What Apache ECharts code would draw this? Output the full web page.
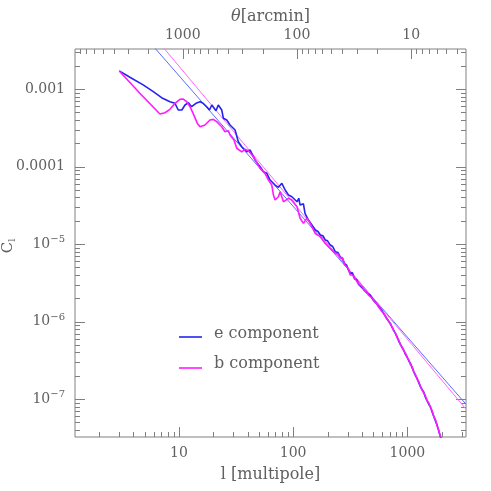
<!DOCTYPE html>
<html><head><meta charset="utf-8">
<script src="https://cdn.jsdelivr.net/npm/echarts@6/dist/echarts.min.js"></script>
<style>html,body{margin:0;padding:0;background:#fff}#c{width:491px;height:491px}</style>
</head><body><div id="c"></div>
<script>
// ---- data ----
const eL = [3.0, 3.72, 4.86, 5.96, 7.05, 8.34, 9.23, 9.86, 10.6, 11.3, 12.1, 12.9, 14.1, 15.3, 16.3, 17.5, 18.5, 19.4, 21.1, 22.1, 23.7, 24.5, 26.2, 28.0, 31.0, 33.1, 35.5, 39.2, 42.0, 46.4, 51.4, 54.9, 58.8, 62.8, 69.5, 74.3, 79.6, 85.1, 90.9, 97.4,
  108, 112, 115, 119, 123, 127, 132, 136, 141, 146, 151, 156, 165, 173, 182, 191, 200, 211, 222, 234, 246, 258, 270, 282, 295, 305, 316, 330, 345, 360, 373, 387, 405, 420, 440, 456, 473, 495, 515, 537, 558, 580, 605, 630, 655, 682, 710, 735, 760, 786, 813, 840, 870, 900, 929, 960, 995, 1030, 1063, 1100, 1140, 1180, 1217, 1260, 1300, 1345, 1391, 1440, 1490, 1540, 1592, 1650, 1710, 1765, 1822, 1880, 1940, 1977];
const eC = [1.71e-3, 1.42e-3, 1.13e-3, 9.23e-4, 7.72e-4, 6.86e-4, 6.53e-4, 5.36e-4, 5.36e-4, 6.22e-4, 6.66e-4, 5.91e-4, 6.53e-4, 6.86e-4, 6.53e-4, 5.91e-4, 5.36e-4, 6.22e-4, 5.25e-4, 6.22e-4, 5.36e-4, 4.19e-4, 3.98e-4, 3.43e-4, 2.96e-4, 2.09e-4, 1.80e-4, 1.55e-4, 1.63e-4, 1.21e-4, 9.94e-5, 8.57e-5, 8.17e-5, 6.70e-5, 5.77e-5, 5.39e-5, 6.07e-5, 4.98e-5, 4.29e-5, 4.08e-5,
  3.51e-5, 3.9e-5, 3.18e-5, 3.03e-5, 3.3e-5, 2.49e-5, 2.6e-5, 2.04e-5, 2.1e-5, 1.76e-5, 1.85e-5, 1.52e-5, 1.45e-5, 1.31e-5, 1.28e-5, 1.13e-5, 1.10e-5, 9.71e-6, 9.3e-6, 7.96e-6, 7.8e-6, 6.86e-6, 6.5e-6, 5.6e-6, 5.3e-6, 4.6e-6, 4.19e-6, 4.25e-6, 3.55e-6, 3.5e-6, 3.05e-6, 3.11e-6, 2.7e-6, 2.6e-6, 2.35e-6, 2.3e-6, 2.20e-6, 1.95e-6, 1.85e-6, 1.7e-6, 1.62e-6, 1.48e-6, 1.35e-6, 1.22e-6, 1.12e-6, 1.02e-6, 9.48e-7, 8.4e-7, 7.7e-7, 7.0e-7, 6.37e-7, 5.6e-7, 5.1e-7, 4.6e-7, 4.29e-7, 3.8e-7, 3.5e-7, 3.1e-7, 2.89e-7, 2.55e-7, 2.25e-7, 2.0e-7, 1.85e-7, 1.62e-7, 1.46e-7, 1.32e-7, 1.24e-7, 1.05e-7, 9.5e-8, 8.6e-8, 7.96e-8, 6.8e-8, 5.9e-8, 5.2e-8, 4.62e-8, 3.9e-8, 3.35e-8, 3.11e-8];

const bL = [3.0, 4.55, 6.81, 7.54, 8.34, 9.23, 10.2, 10.9, 11.7, 12.5, 13.3, 14.5, 15.3, 16.9, 18.7, 20.0, 21.4, 23.7, 25.3, 27.1, 28.0, 30.3, 32.1, 35.5, 37.9, 40.5, 44.9, 51.4, 56.8, 60.7, 65.0, 67.2, 69.5, 74.3, 76.9, 82.2, 85.1, 90.9, 97.4, 108, 115, 123, 132, 141, 156, 173, 191, 211, 234,
  246, 258, 270, 282, 295, 305, 316, 330, 345, 360, 373, 387, 405, 420, 440, 456, 473, 495, 515, 537, 558, 580, 605, 630, 655, 682, 710, 735, 760, 786, 813, 840, 870, 900, 929, 960, 995, 1030, 1063, 1100, 1140, 1180, 1217, 1260, 1300, 1345, 1391, 1440, 1490, 1540, 1592, 1650, 1710, 1765, 1822, 1880, 1940, 2000];
const bC = [1.71e-3, 8.8e-4, 4.75e-4, 4.94e-4, 5.47e-4, 6.53e-4, 7.36e-4, 7.42e-4, 6.86e-4, 5.91e-4, 4.85e-4, 3.60e-4, 3.26e-4, 3.43e-4, 3.98e-4, 4.06e-4, 3.79e-4, 3.26e-4, 2.81e-4, 2.90e-4, 2.55e-4, 2.20e-4, 1.72e-4, 1.55e-4, 1.67e-4, 1.60e-4, 1.34e-4, 9.48e-5, 8.17e-5, 6.70e-5, 5.77e-5, 4.29e-5, 3.70e-5, 4.08e-5, 4.73e-5, 3.51e-5, 3.35e-5, 3.89e-5, 3.70e-5, 3.03e-5, 2.15e-5, 1.85e-5, 2.15e-5, 1.85e-5, 1.37e-5, 1.25e-5, 1.02e-5, 8.81e-6, 7.59e-6,
  7.5e-6, 6.6e-6, 6.7e-6, 5.4e-6, 5.1e-6, 4.8e-6, 4.0e-6, 4.0e-6, 3.7e-6, 3.3e-6, 3.2e-6, 2.95e-6, 2.8e-6, 2.5e-6, 2.45e-6, 2.2e-6, 2.15e-6, 2.0e-6, 1.8e-6, 1.72e-6, 1.55e-6, 1.5e-6, 1.32e-6, 1.25e-6, 1.1e-6, 1.04e-6, 9.2e-7, 8.6e-7, 7.6e-7, 7.1e-7, 6.2e-7, 5.8e-7, 5.0e-7, 4.7e-7, 4.2e-7, 3.95e-7, 3.45e-7, 3.2e-7, 2.8e-7, 2.62e-7, 2.2e-7, 2.07e-7, 1.8e-7, 1.68e-7, 1.45e-7, 1.38e-7, 1.2e-7, 1.1e-7, 9.6e-8, 8.9e-8, 7.8e-8, 7.0e-8, 5.9e-8, 5.4e-8, 4.5e-8, 4.0e-8, 3.3e-8, 2.95e-8];

const eFitL = [6.04, 3260];
const eFitC = [3.48e-3, 8.6e-8];
const bFitL = [7.24, 3260];
const bFitC = [3.48e-3, 7.43e-8];

const xTickLabels = [10, 100, 1000];
const thetaTickLabels = [1000, 100, 10];
const yTickLabels = {'-3': '0.001', '-4': '0.0001', '-5': '10{s|−5}', '-6': '10{s|−6}', '-7': '10{s|−7}'};
const seriesNames = ['e component', 'b component'];

const XMIN = 1.23, XMAX = 3260;
const YMIN = 3.25e-8, YMAX = 3.28e-3;
const ARCMIN = 10800; // theta[arcmin] = 10800 / l
const TMIN = ARCMIN / XMAX, TMAX = ARCMIN / XMIN;

// ---- helpers ----
const FONT = 'DejaVu Serif';
const TXT = '#606060';
const FRAME = '#808080';
function isPow10(v) { const l = Math.log10(v); return Math.abs(l - Math.round(l)) < 1e-6; }
function pairs(xs, ys) { return xs.map((x, i) => [x, ys[i]]); }

function tickValues(lo, hi) {
  const out = [];
  for (let k = Math.floor(Math.log10(lo)); k <= Math.ceil(Math.log10(hi)); k++) {
    for (let m = 1; m <= 9; m++) {
      const v = m * Math.pow(10, k);
      if (v > lo * 1.0001 && v < hi * 0.9999) out.push([v, m === 1 ? 1 : 0]);
    }
  }
  return out;
}
const tickDataMain = [];
tickValues(XMIN, XMAX).forEach(([v, M]) => tickDataMain.push([v, YMIN * 2, 0, M]));
tickValues(YMIN, YMAX).forEach(([v, M]) => tickDataMain.push([XMIN * 2, v, 1, M]));
const tickDataTop = tickValues(TMIN, TMAX).map(([v, M]) => [v, YMIN * 2, 2, M]);

function renderTicks(params, api) {
  const cs = params.coordSys;
  const p = api.coord([api.value(0), api.value(1)]);
  const kind = api.value(2), len = api.value(3) ? 10 : 5;
  const style = { stroke: FRAME, lineWidth: 1 };
  if (kind === 0) {
    const x = Math.round(p[0]) + 0.5, yb = cs.y + cs.height;
    return { type: 'line', shape: { x1: x, y1: yb, x2: x, y2: yb - len }, style };
  }
  if (kind === 2) {
    const x = Math.round(p[0]) + 0.5;
    return { type: 'line', shape: { x1: x, y1: cs.y, x2: x, y2: cs.y + len }, style };
  }
  const y = Math.round(p[1]) + 0.5;
  return { type: 'group', children: [
    { type: 'line', shape: { x1: cs.x, y1: y, x2: cs.x + len, y2: y }, style },
    { type: 'line', shape: { x1: cs.x + cs.width, y1: y, x2: cs.x + cs.width - len, y2: y }, style }
  ] };
}

const chart = echarts.init(document.getElementById('c'), null, { renderer: 'canvas' });
const labelBase = { color: TXT, fontFamily: FONT, fontSize: 14 };
chart.setOption({
  backgroundColor: '#fff',
  animation: false,
  grid: { left: 75, right: 25, top: 49, bottom: 54, show: true, borderColor: FRAME, borderWidth: 1, backgroundColor: 'transparent', containLabel: false, outerBoundsMode: 'none' },
  xAxis: [
    { type: 'log', min: XMIN, max: XMAX, position: 'bottom',
      axisLine: { show: false }, axisTick: { show: false }, splitLine: { show: false }, minorTick: { show: false },
      axisLabel: Object.assign({ margin: 9, formatter: v => (isPow10(v) && xTickLabels.includes(Math.round(v))) ? String(Math.round(v)) : '' }, labelBase),
      name: 'l [multipole]', nameLocation: 'middle', nameGap: 30, nameMoveOverlap: false,
      nameTextStyle: { color: TXT, fontFamily: FONT, fontSize: 16 } },
    { type: 'log', min: TMIN, max: TMAX, inverse: true, position: 'top',
      axisLine: { show: false }, axisTick: { show: false }, splitLine: { show: false },
      axisLabel: Object.assign({ margin: 7, formatter: v => (isPow10(v) && thetaTickLabels.includes(Math.round(v))) ? String(Math.round(v)) : '' }, labelBase),
      name: '{i|θ}[arcmin]', nameLocation: 'middle', nameGap: 24, nameMoveOverlap: false,
      nameTextStyle: { color: TXT, fontFamily: FONT, fontSize: 16, rich: { i: { fontStyle: 'italic', color: TXT, fontFamily: FONT, fontSize: 16 } } } }
  ],
  yAxis: [
    { type: 'log', min: YMIN, max: YMAX,
      axisLine: { show: false }, axisTick: { show: false }, splitLine: { show: false },
      axisLabel: Object.assign({ margin: 10,
        formatter: v => { if (!isPow10(v)) return ''; const k = String(Math.round(Math.log10(v))); return yTickLabels[k] || ''; },
        rich: { s: { fontSize: 10, color: TXT, fontFamily: FONT, padding: [0, 0, 9, 0] } } }, labelBase),
      name: 'C{sub|l}', nameLocation: 'middle', nameGap: 58, nameRotate: 90, nameMoveOverlap: false,
      nameTextStyle: { color: TXT, fontFamily: FONT, fontSize: 15, padding: [0, 6, 0, 0], rich: { sub: { fontSize: 10, color: TXT, fontFamily: FONT, padding: [8, 0, 0, 0] } } } }
  ],
  series: [
    { type: 'custom', name: 'ticks', xAxisIndex: 0, yAxisIndex: 0, renderItem: renderTicks, data: tickDataMain, silent: true, clip: false, z: 1 },
    { type: 'custom', name: 'ticksTop', xAxisIndex: 1, yAxisIndex: 0, renderItem: renderTicks, data: tickDataTop, silent: true, clip: false, z: 1 },
    { type: 'line', name: 'e fit', data: pairs(eFitL, eFitC), showSymbol: false, lineStyle: { color: '#5b6bff', width: 1 }, clip: true, z: 2 },
    { type: 'line', name: 'b fit', data: pairs(bFitL, bFitC), showSymbol: false, lineStyle: { color: '#ff66ff', width: 1 }, clip: true, z: 2 },
    { type: 'line', name: seriesNames[0], data: pairs(eL, eC), showSymbol: false, lineStyle: { color: '#2424f0', width: 1.6 }, clip: true, z: 3 },
    { type: 'line', name: seriesNames[1], data: pairs(bL, bC), showSymbol: false, lineStyle: { color: '#ff1aff', width: 1.6 }, clip: true, z: 4 }
  ],
  graphic: [
    { type: 'line', shape: { x1: 179, y1: 337, x2: 202, y2: 337 }, style: { stroke: '#2424f0', lineWidth: 1.6 } },
    { type: 'text', left: 214, top: 326, style: { text: seriesNames[0], fill: TXT, font: '16px "DejaVu Serif"' } },
    { type: 'line', shape: { x1: 179, y1: 368, x2: 202, y2: 368 }, style: { stroke: '#ff1aff', lineWidth: 1.6 } },
    { type: 'text', left: 214, top: 356, style: { text: seriesNames[1], fill: TXT, font: '16px "DejaVu Serif"' } }
  ]
});
</script>
</body></html>
